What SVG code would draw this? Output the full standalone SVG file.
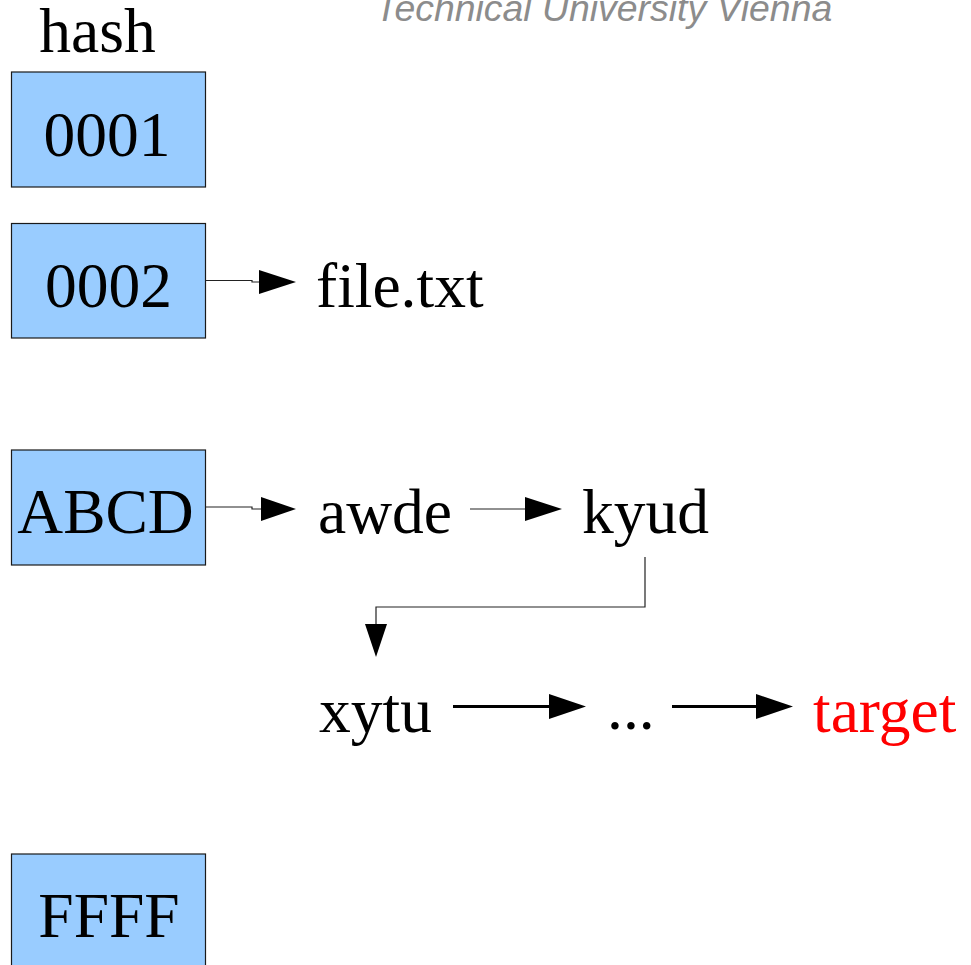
<svg xmlns="http://www.w3.org/2000/svg" width="971" height="965" viewBox="0 0 971 965">
<style>
.box{fill:#99ccff;stroke:#1a1a1a;stroke-width:1.2}
.t{font-family:"Liberation Serif","Times New Roman",serif;font-size:63.5px;fill:#000}
.c{text-anchor:middle}
.thin{fill:none;stroke:#222;stroke-width:1.2}
.thick{fill:none;stroke:#000;stroke-width:3}
.head{fill:#000}
</style>
<rect width="971" height="965" fill="#fff"/>
<text x="375" y="21" style="font-family:'Liberation Sans',Arial,sans-serif;font-style:italic;font-size:37.4px;fill:#8c8c8c">Technical University Vienna</text>
<text id="hash" class="t c" x="97.5" y="52">hash</text>
<g id="n0001"><rect class="box" x="11.5" y="72" width="194" height="115"/><text class="t c" x="107" y="155.5">0001</text></g>
<g id="n0002"><rect class="box" x="11.5" y="223.5" width="194" height="114.5"/><text class="t c" x="108.5" y="307">0002</text></g>
<g id="nABCD"><rect class="box" x="11.5" y="450" width="194" height="115"/><text class="t c" x="105.5" y="533">ABCD</text></g>
<g id="nFFFF"><rect class="box" x="11.5" y="854" width="194" height="120"/><text class="t c" x="109" y="937">FFFF</text></g>
<g id="file"><text class="t" x="316" y="307">file.txt</text></g>
<g id="awde"><text class="t" x="318" y="533">awde</text></g>
<g id="kyud"><text class="t" x="582" y="533">kyud</text></g>
<g id="xytu"><text class="t" x="319" y="732">xytu</text></g>
<g id="dots"><text class="t" x="607" y="729">...</text></g>
<g id="target"><text class="t" x="813" y="732" style="fill:#ff0000">target</text></g>
<g id="connectors">
<path class="thin" d="M205.5 280.5 H252 V282 H260"/>
<polygon class="head" points="259,270 296,282 259,294"/>
<path class="thin" d="M205.5 507 H252 V509 H262"/>
<polygon class="head" points="261,497 296,509 261,521"/>
<path class="thin" d="M470 509 H527"/>
<polygon class="head" points="525,497 562,509 525,521"/>
<path class="thin" d="M645 557 V607 H376 V626"/>
<polygon class="head" points="365,624 387,624 376,657"/>
<path class="thick" d="M453 706.5 H551"/>
<polygon class="head" points="549,694 586,706.5 549,719"/>
<path class="thick" d="M672 706.5 H758"/>
<polygon class="head" points="756,694 793,706.5 756,719"/>
</g>
</svg>
